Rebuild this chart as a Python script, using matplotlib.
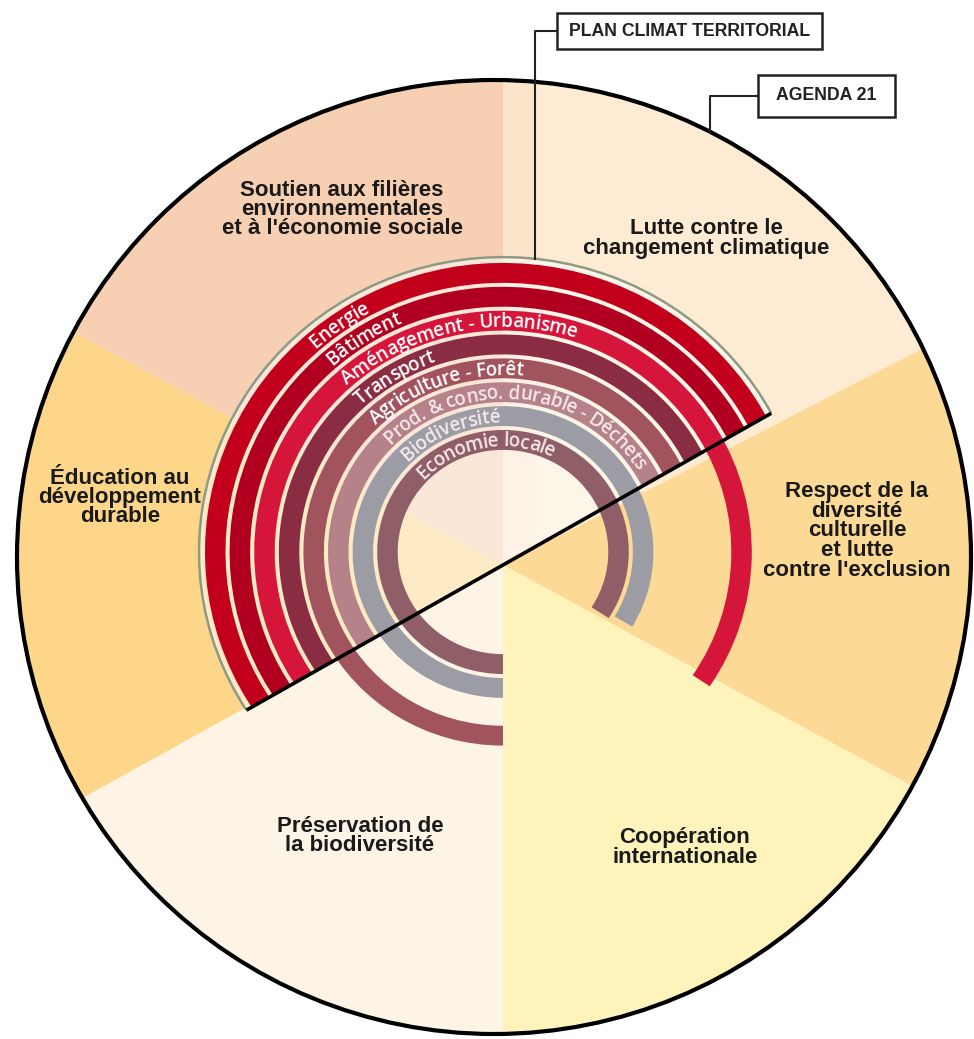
import numpy as np
import matplotlib
matplotlib.use("Agg")
import matplotlib.pyplot as plt
from matplotlib.patches import Wedge, Circle, Rectangle, Polygon, Arc
from matplotlib.transforms import Affine2D
from matplotlib import font_manager
from matplotlib.font_manager import FontProperties
try:
    from matplotlib.ft2font import LoadFlags
    NOHINT = LoadFlags.NO_HINTING
except Exception:
    from matplotlib.ft2font import LOAD_NO_HINTING as NOHINT

# ---------------- data ----------------
sector_labels = [
    "Lutte contre le\nchangement climatique",
    "Respect de la\ndiversité\nculturelle\net lutte\ncontre l'exclusion",
    "Coopération\ninternationale",
    "Préservation de\nla biodiversité",
    "Éducation au\ndéveloppement\ndurable",
    "Soutien aux filières\nenvironnementales\net à l'économie sociale",
]
sector_from = [27.3, -28.4, -90.0, 209.0, 151.5, 90.0]   # degrees, ccw from east
sector_to = [90.0, 27.3, -28.4, 270.0, 209.0, 151.5]
sector_colors = ["#fdebd3", "#fdd996", "#fef3bb", "#fdf4e6", "#fdd68a", "#f7cfb2"]

themes = ["Energie", "Bâtiment", "Aménagement - Urbanisme", "Transport",
          "Agriculture - Forêt", "Prod. & conso. durable - Déchets",
          "Biodiversité", "Economie locale"]
theme_colors = ["#c2001c", "#b1001f", "#d5163a", "#8a2c42",
                "#a2545e", "#b6828a", "#9c9ca5", "#8f5e67"]
# angular extent of each theme arc; 29.5 / 209.5 = cut by the diagonal
theme_from = [29.5, 29.5, -33.0, 29.5, 29.5, 29.5, -30.0, -32.0]
theme_to = [209.5, 209.5, 209.5, 209.5, 270.0, 209.5, 270.0, 270.0]

plans = ["PLAN CLIMAT TERRITORIAL", "AGENDA 21"]

# ---------------- layout ----------------
W, H = 974, 1039
fig = plt.figure(figsize=(W / 100, H / 100), dpi=100)
ax = fig.add_axes([0, 0, 1, 1])
ax.set_xlim(0, W)
ax.set_ylim(0, H)
ax.axis("off")


def P(x, y):
    return (x, H - y)


BC = P(494, 557)      # big circle centre
BR = 477
AC = P(503, 552)      # arcs centre
cx, cy = AC
SY = 0.97             # vertical squash of the ring ellipses
DIAG = 29.5
tdg = np.deg2rad(DIAG)
line_y0 = cy - 13     # diagonal passes slightly below the ring centre
SC = (503, line_y0)   # sectors centre, on the diagonal
R_OUT = 304

squash = Affine2D().translate(-cx, -cy).scale(1, SY).translate(cx, cy)
tr_sq = squash + ax.transData


def param_angle(a_deg):
    a = np.deg2rad(a_deg)
    return np.rad2deg(np.arctan2(np.sin(a) / SY, np.cos(a)))


def line_y(x):
    return line_y0 + (x - cx) * np.tan(tdg)


FAR = 2000
above = Polygon([(-FAR, line_y(-FAR)), (FAR, line_y(FAR)), (FAR, FAR), (-FAR, FAR)],
                closed=True, transform=ax.transData)
above_or_left = Polygon([(cx, line_y(cx)), (FAR, line_y(FAR)), (FAR, FAR), (-FAR, FAR),
                         (-FAR, -FAR), (cx, -FAR)], closed=True, transform=ax.transData)
above_or_right = Polygon([(-FAR, line_y(-FAR)), (cx, line_y(cx)), (cx, -FAR), (FAR, -FAR),
                          (FAR, FAR), (-FAR, FAR)], closed=True, transform=ax.transData)

big = Circle(BC, BR, facecolor="none", edgecolor="none")
ax.add_patch(big)
for a0, a1, col in zip(sector_from, sector_to, sector_colors):
    w = Wedge(SC, 800, a0, a1, facecolor=col, edgecolor="none", zorder=1)
    ax.add_patch(w)
    w.set_clip_path(big)
# thin vertical strip at the top, down to the diagonal
sx0, sx1 = 503, 535
strip = Polygon([(sx0, line_y(sx0)), (sx1, line_y(sx1)), (sx1, H), (sx0, H)], closed=True,
                facecolor="#fbe6cc", edgecolor="none", zorder=1.1)
ax.add_patch(strip)
strip.set_clip_path(big)

# light veil over the half disc
veil = Wedge(AC, R_OUT + 1, 0, 360, facecolor="white", alpha=0.5,
             edgecolor="none", zorder=2)
ax.add_patch(veil)
veil.set_transform(tr_sq)
veil.set_clip_path(above)

# rings
r_out0 = 298
pitch = 24.6
width = 20.5
radii = []
for i, (name, col, a0, a1) in enumerate(zip(themes, theme_colors, theme_from, theme_to)):
    ro = r_out0 - i * pitch
    radii.append(ro)
    cut_r = abs(a0 - DIAG) < 1e-6
    cut_l = abs(a1 - DIAG - 180) < 1e-6
    p0 = param_angle(DIAG) - 14 if cut_r else param_angle(a0)
    p1 = param_angle(DIAG + 180) + 360 + 14 if cut_l else param_angle(a1) % 360
    if p1 < p0:
        p1 += 360
    wd = Wedge(AC, ro, p0, p1, width=width, facecolor=col, edgecolor="none", zorder=3)
    ax.add_patch(wd)
    wd.set_transform(tr_sq)
    if cut_r and cut_l:
        wd.set_clip_path(above)
    elif cut_r:
        wd.set_clip_path(above_or_left)
    elif cut_l:
        wd.set_clip_path(above_or_right)

outline = Arc(AC, 2 * R_OUT, 2 * R_OUT, theta1=param_angle(DIAG) - 12,
              theta2=param_angle(DIAG + 180) + 372, color="#8d9a84", lw=1.8, zorder=4)
ax.add_patch(outline)
outline.set_transform(tr_sq)
outline.set_clip_path(above)

# diagonal black line, between its two intersections with the outline ellipse
ux, uy = np.cos(tdg), np.sin(tdg)
x0, y0 = cx, line_y0
A_ = (ux / R_OUT) ** 2 + (uy / (R_OUT * SY)) ** 2
B_ = 2 * ((x0 - cx) * ux / R_OUT ** 2 + (y0 - cy) * uy / (R_OUT * SY) ** 2)
C_ = ((x0 - cx) / R_OUT) ** 2 + ((y0 - cy) / (R_OUT * SY)) ** 2 - 1
disc = np.sqrt(B_ ** 2 - 4 * A_ * C_)
t1, t2 = (-B_ - disc) / (2 * A_), (-B_ + disc) / (2 * A_)
ax.plot([x0 + t1 * ux, x0 + t2 * ux], [y0 + t1 * uy, y0 + t2 * uy],
        color="black", lw=2.6, solid_capstyle="butt", zorder=6)

# big circle outline
ax.add_patch(Circle(BC, BR, facecolor="none", edgecolor="black", lw=3.0, zorder=7))

# curved labels
ring_fp = FontProperties(family="Open Sans", weight="semibold")
ring_size = 13.6
label_start = [132.7, 132.6, 133.0, 134.0, 135.0, 136.5, 136.5, 137.5]
ring_text_colors = ["white"] * 5 + ["#f8e8ea"] * 3

fpath = font_manager.findfont(ring_fp)
font = font_manager.get_font(fpath)
font.set_size(ring_size, 100)
fs_px = ring_size * 100 / 72


def curved_text(text, r_mid, start_deg, color):
    r_base = r_mid - 0.36 * fs_px
    th = np.deg2rad(param_angle(start_deg))
    for ch in text:
        g = font.load_char(ord(ch), flags=NOHINT)
        adv = g.linearHoriAdvance / 65536
        speed = r_mid * np.sqrt(np.sin(th) ** 2 + (SY * np.cos(th)) ** 2)
        tc = th - (adv / 2) / speed
        x = cx + r_base * np.cos(tc)
        y = cy + SY * r_base * np.sin(tc)
        rot = np.rad2deg(np.arctan2(-SY * np.cos(tc), np.sin(tc)))
        ax.text(x, y, ch, rotation=rot, rotation_mode="anchor",
                ha="center", va="baseline", fontproperties=ring_fp,
                fontsize=ring_size, color=color, zorder=5)
        th = th - adv / speed


for name, ro, st, col in zip(themes, radii, label_start, ring_text_colors):
    curved_text(name, ro - width / 2, st, col)

# sector labels
lab_fp = FontProperties(family="Liberation Sans", weight="bold")
lab_size = 16.0
lab_pos = [(706, 229), (857, 492), (685, 838), (360, 826), (120, 478), (342, 190)]
line_gap = 19.5
for text, (x, y) in zip(sector_labels, lab_pos):
    for k, line in enumerate(text.split("\n")):
        ax.text(*P(x, y + k * line_gap), line, ha="center", va="center",
                fontproperties=lab_fp, fontsize=lab_size, color="#1a1a1a", zorder=8)

# plan boxes with connectors
box_fp = FontProperties(family="Liberation Sans", weight="bold")
boxes = [(557, 13, 265, 36), (758, 75, 137, 42)]
conn_x = [535, 710]
y1 = cy + SY * np.sqrt(R_OUT ** 2 - (conn_x[0] - cx) ** 2)
y2 = BC[1] + np.sqrt(BR ** 2 - (conn_x[1] - BC[0]) ** 2)
ends = [y1, y2]
for name, (bx, by, bw, bh), xc, ye in zip(plans, boxes, conn_x, ends):
    ax.add_patch(Rectangle(P(bx, by + bh), bw, bh, facecolor="white",
                           edgecolor="#222222", lw=1.8, zorder=9))
    ax.text(*P(bx + bw / 2, by + bh / 2), name, ha="center", va="center",
            fontproperties=box_fp, fontsize=12.7, color="#222222", zorder=10)
    ym = H - (by + bh / 2)
    ax.plot([bx, xc, xc], [ym, ym, ye], color="#222222", lw=1.5, zorder=8)

fig.savefig("out.png", dpi=100, facecolor="white")
